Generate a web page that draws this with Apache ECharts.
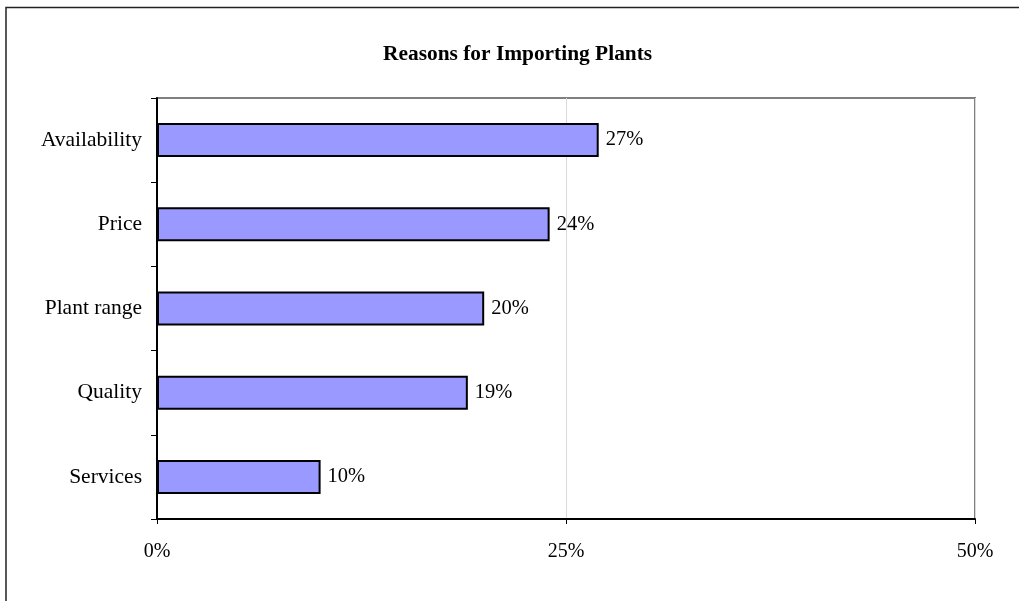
<!DOCTYPE html>
<html>
<head>
<meta charset="utf-8">
<script src="https://cdn.jsdelivr.net/npm/echarts@6/dist/echarts.min.js"></script>
<style>
html,body{margin:0;padding:0;background:#fff;}
#chart{width:1019px;height:601px;}
</style>
</head>
<body>
<div id="chart"></div>
<script>
const categories = ['Availability', 'Price', 'Plant range', 'Quality', 'Services'];
const values = [27, 24, 20, 19, 10];
const xTicks = [0, 25, 50];

const FONT = '"Liberation Serif", "Times New Roman", serif';
const chart = echarts.init(document.getElementById('chart'), null, {renderer: 'canvas'});
chart.setOption({
  backgroundColor: '#ffffff',
  animation: false,
  title: {
    text: 'Reasons for Importing Plants',
    left: 378,
    top: 39,
    textStyle: {fontFamily: FONT, fontSize: 21.4, fontWeight: 'bold', color: '#000'}
  },
  graphic: [{
    type: 'rect',
    shape: {x: 6, y: 7.5, width: 1100, height: 700},
    style: {fill: 'none', stroke: '#222', lineWidth: 1.5},
    silent: true, z: 100
  }],
  grid: {
    left: 157, top: 98, right: 44, bottom: 82,
    show: true, borderColor: '#808080', borderWidth: 2, backgroundColor: '#fff'
  },
  xAxis: {
    type: 'value',
    min: xTicks[0], max: xTicks[xTicks.length - 1], interval: 25,
    axisLine: {show: true, lineStyle: {color: '#000', width: 2}},
    axisTick: {show: true, length: 5, lineStyle: {color: '#000', width: 1}},
    axisLabel: {formatter: '{value}%', margin: 23, fontFamily: FONT, fontSize: 20, color: '#000'},
    splitLine: {show: true, lineStyle: {color: '#d9d9d9', width: 1}}
  },
  yAxis: {
    type: 'category',
    data: categories,
    inverse: true,
    axisLine: {show: true, lineStyle: {color: '#000', width: 2}},
    axisTick: {show: true, length: 6, lineStyle: {color: '#000', width: 1}},
    axisLabel: {margin: 15, fontFamily: FONT, fontSize: 21.5, color: '#000'},
    splitLine: {show: false}
  },
  series: [{
    type: 'bar',
    data: values,
    barWidth: 34,
    itemStyle: {color: '#9999ff', borderColor: '#000', borderWidth: 2},
    label: {
      show: true, position: 'right', distance: 7,
      formatter: '{c}%', fontFamily: FONT, fontSize: 20.5, color: '#000'
    }
  }]
});
</script>
</body>
</html>
